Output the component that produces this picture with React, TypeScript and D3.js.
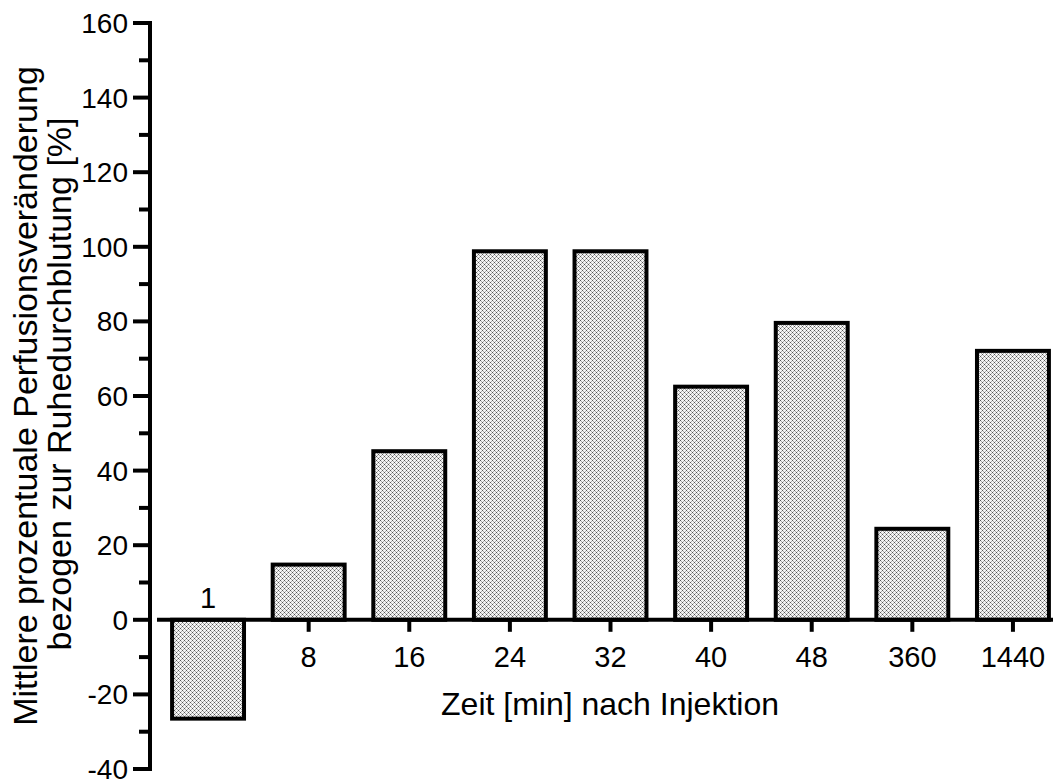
import React from "react";
import * as d3 from "d3";

const categories = ["1", "8", "16", "24", "32", "40", "48", "360", "1440"];
const values = [-26.5, 14.8, 45.2, 98.8, 98.8, 62.5, 79.6, 24.4, 72.1];
const yTicks = [-40, -20, 0, 20, 40, 60, 80, 100, 120, 140, 160];
const yMinorTicks = [-30, -10, 10, 30, 50, 70, 90, 110, 130, 150];

const W = 1053;
const H = 781;
const FONT = "'Liberation Sans', Arial, sans-serif";

export default function App() {
  const y = d3.scaleLinear().domain([-40, 160]).range([769, 23]);
  const x = d3.scaleBand().domain(categories).range([158, 1063]).paddingInner(0.285).paddingOuter(0.14);
  const axisX = 150;
  const y0 = y(0);

  return (
    <svg width={W} height={H} style={{ position: "absolute", left: 0, top: 0 }} fontFamily={FONT}>
      <defs>
        <pattern id="hatch" width="4" height="4" patternUnits="userSpaceOnUse">
          <rect width="4" height="4" fill="#f4f4f4" />
          <rect x="0" y="0" width="1" height="1" fill="#555" />
          <rect x="2" y="2" width="1" height="1" fill="#555" />
          <rect x="1" y="1" width="1" height="1" fill="#aaa" />
          <rect x="3" y="3" width="1" height="1" fill="#aaa" />
          <rect x="3" y="1" width="1" height="1" fill="#aaa" />
          <rect x="1" y="3" width="1" height="1" fill="#aaa" />
        </pattern>
      </defs>
      <rect width={W} height={H} fill="#fff" />

      {/* bars */}
      {categories.map((c, i) => {
        const v = values[i];
        const top = Math.min(y(v), y0);
        const h = Math.abs(y(v) - y0);
        return (
          <rect key={c} x={x(c)!} y={top} width={x.bandwidth()} height={h}
            fill="url(#hatch)" stroke="#000" strokeWidth={4} />
        );
      })}

      {/* x axis */}
      <line x1={157} x2={W} y1={y0} y2={y0} stroke="#000" strokeWidth={4} />
      {categories.map((c, i) => {
        const cx = x(c)! + x.bandwidth() / 2;
        const neg = values[i] < 0;
        return (
          <g key={"t" + c}>
            {!neg && <line x1={cx} x2={cx} y1={y0} y2={y0 + 12} stroke="#000" strokeWidth={4} />}
            <text x={cx} y={neg ? y0 - 12 : y0 + 47} textAnchor="middle" fontSize={29}>{c}</text>
          </g>
        );
      })}

      {/* y axis */}
      <line x1={axisX} x2={axisX} y1={y(160) - 2} y2={y(-40) + 2} stroke="#000" strokeWidth={4} />
      {yTicks.map((t) => (
        <g key={"y" + t}>
          <line x1={axisX - 17} x2={axisX} y1={y(t)} y2={y(t)} stroke="#000" strokeWidth={4} />
          <text x={axisX - 22} y={y(t) + 10} textAnchor="end" fontSize={28}>{t}</text>
        </g>
      ))}
      {yMinorTicks.map((t) => (
        <line key={"m" + t} x1={axisX - 11} x2={axisX} y1={y(t)} y2={y(t)} stroke="#000" strokeWidth={4} />
      ))}

      {/* titles */}
      <text x={610} y={715} textAnchor="middle" fontSize={32}>Zeit [min] nach Injektion</text>
      <g transform="rotate(-90)">
        <text x={-396} y={37} textAnchor="middle" fontSize={34}>Mittlere prozentuale Perfusionsveränderung</text>
        <text x={-384} y={71} textAnchor="middle" fontSize={34}>bezogen zur Ruhedurchblutung [%]</text>
      </g>
    </svg>
  );
}
